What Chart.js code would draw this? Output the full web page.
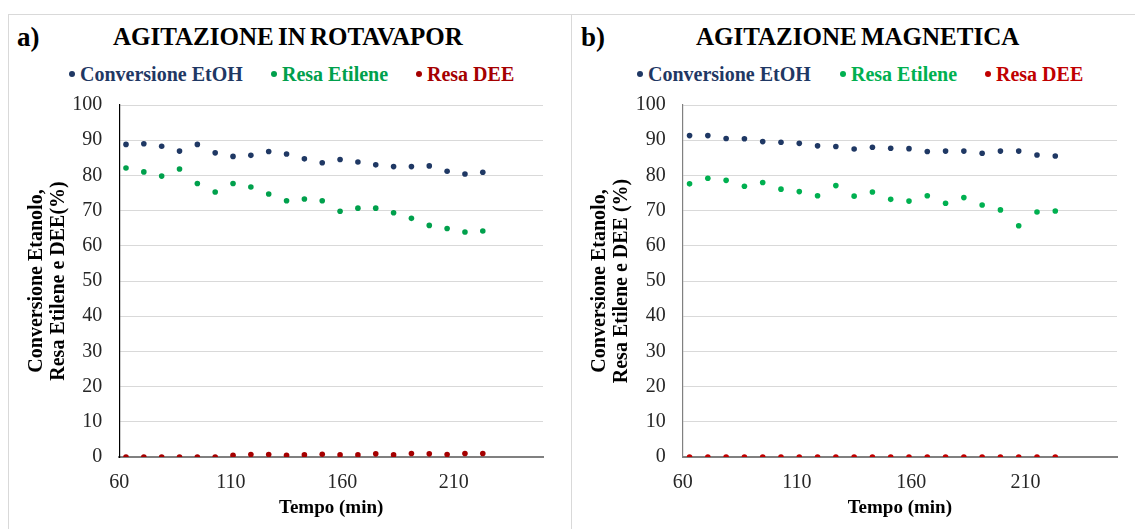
<!DOCTYPE html>
<html>
<head>
<meta charset="utf-8">
<script src="https://cdn.jsdelivr.net/npm/chart.js@4/dist/chart.umd.min.js"></script>
<style>
  body { margin: 0; background: #fff; font-family: "Liberation Serif", "Times New Roman", serif; }
  #wrap { position: relative; width: 1135px; height: 529px; overflow: hidden; }
  .frame { position: absolute; border: 1px solid #d9d9d9; box-sizing: border-box; }
  .tag { position: absolute; font-weight: bold; font-size: 27px; line-height: 30px; color: #000; }
  .title { position: absolute; font-weight: bold; font-size: 25px; line-height: 30px; color: #000; word-spacing: -2px; }
  .leg { position: absolute; font-weight: bold; font-size: 20px; line-height: 24px; white-space: nowrap; }
  .leg i { display: inline-block; width: 6px; height: 6px; border-radius: 50%; margin-right: 5px; vertical-align: 4px; }
  canvas { position: absolute; top: 0; }
</style>
</head>
<body>
<div id="wrap">
  <div class="frame" style="left:8px;top:14px;width:564px;height:520px;"></div>
  <div class="frame" style="left:571px;top:14px;width:570px;height:520px;"></div>

  <div class="tag" style="left:17px;top:22px;">a)</div>
  <div class="title" style="left:113px;top:22px;">AGITAZIONE IN ROTAVAPOR</div>
  <div class="leg" style="left:69px;top:62px;color:#1f3864;"><i style="background:#1f3864"></i>Conversione EtOH</div>
  <div class="leg" style="left:271px;top:62px;color:#00a04c;"><i style="background:#00a04c"></i>Resa Etilene</div>
  <div class="leg" style="left:416px;top:62px;color:#a50000;"><i style="background:#a50000"></i>Resa DEE</div>

  <div class="tag" style="left:581px;top:22px;">b)</div>
  <div class="title" style="left:696px;top:22px;">AGITAZIONE MAGNETICA</div>
  <div class="leg" style="left:637px;top:62px;color:#1f3864;"><i style="background:#1f3864"></i>Conversione EtOH</div>
  <div class="leg" style="left:840px;top:62px;color:#00b050;"><i style="background:#00b050"></i>Resa Etilene</div>
  <div class="leg" style="left:985px;top:62px;color:#c00000;"><i style="background:#c00000"></i>Resa DEE</div>

  <canvas id="chartA" width="560" height="529" style="left:0;"></canvas>
  <canvas id="chartB" width="572" height="529" style="left:563px;"></canvas>
</div>

<script>
// tempo (min)
const tempo = [63, 71, 79, 87, 95, 103, 111, 119, 127, 135, 143, 151, 159, 167, 175, 183, 191, 199, 207, 215, 223];
const xTicks = [60, 110, 160, 210];

// a) agitazione in rotavapor
const convRotavapor = [88.8, 89.0, 88.3, 86.9, 88.8, 86.4, 85.4, 85.7, 86.8, 86.1, 84.7, 83.6, 84.5, 83.8, 83.0, 82.5, 82.5, 82.7, 81.2, 80.4, 80.9];
const etileneRotavapor = [82.1, 81.0, 79.8, 81.8, 77.7, 75.3, 77.7, 76.7, 74.7, 72.8, 73.3, 72.8, 69.8, 70.7, 70.7, 69.4, 67.8, 65.8, 64.9, 63.9, 64.2];
const deeRotavapor = [0, 0, 0, 0, 0, 0, 0.5, 0.7, 0.7, 0.5, 0.6, 0.8, 0.6, 0.6, 0.9, 0.6, 1.0, 0.9, 0.7, 1.0, 1.0];

// b) agitazione magnetica
const convMagnetica = [91.3, 91.3, 90.5, 90.4, 89.6, 89.4, 89.1, 88.4, 88.2, 87.5, 88.0, 87.7, 87.6, 86.8, 86.9, 86.9, 86.3, 86.9, 86.9, 85.8, 85.5];
const etileneMagnetica = [77.6, 79.2, 78.6, 76.9, 78.0, 76.1, 75.4, 74.2, 77.1, 74.1, 75.3, 73.2, 72.7, 74.2, 72.1, 73.7, 71.6, 70.2, 65.7, 69.6, 69.9];
const deeMagnetica = [0, 0, 0, 0, 0, 0, 0, 0, 0, 0, 0, 0, 0, 0, 0, 0, 0, 0, 0, 0, 0];

const serif = '"Liberation Serif", "Times New Roman", serif';

function toPoints(ys) {
  return ys.map((y, i) => ({ x: tempo[i], y }));
}

function makeSet(label, ys, color) {
  return {
    label,
    data: toPoints(ys),
    backgroundColor: color,
    borderColor: color,
    pointRadius: 2.8,
    pointBorderWidth: 0,
    pointHoverRadius: 2.8
  };
}

// crea un grafico a dispersione
function createPanel(canvas, sets, yTitle, yBorder, yWidth, rightPad) {
  return new Chart(canvas, {
    type: 'scatter',
    data: { datasets: sets },
    options: {
      responsive: false,
      animation: false,
      events: [],
      layout: { padding: { top: 105, right: rightPad, bottom: 10, left: 0 } },
      plugins: { legend: { display: false }, tooltip: { enabled: false } },
      scales: {
        x: {
          type: 'linear',
          min: 60,
          max: 250,
          afterBuildTicks: (scale) => { scale.ticks = xTicks.map(v => ({ value: v })); },
          afterFit: (scale) => { scale.height = 62; },
          grid: { display: false, drawTicks: false },
          border: { color: '#808080', width: 2 },
          ticks: { color: '#262626', font: { family: serif, size: 20 }, padding: 14, maxRotation: 0 },
          title: { display: true, text: 'Tempo (min)', color: '#000', font: { family: serif, size: 19, weight: 'bold', lineHeight: 1.15 }, padding: 0 }
        },
        y: {
          min: 0,
          max: 100,
          afterFit: (scale) => { scale.width = yWidth; },
          ticks: { stepSize: 10, color: '#262626', font: { family: serif, size: 20 }, padding: 17 },
          grid: { color: '#d9d9d9', lineWidth: 1, drawTicks: false },
          border: { color: yBorder, width: 1.2 },
          title: { display: true, text: yTitle, color: '#000', font: { family: serif, size: 20, weight: 'bold', lineHeight: 1.1 }, padding: { top: 26, bottom: 0 } }
        }
      }
    }
  });
}

createPanel(document.getElementById('chartA'), [
  makeSet('Conversione EtOH', convRotavapor, '#1f3864'),
  makeSet('Resa Etilene', etileneRotavapor, '#00a04c'),
  makeSet('Resa DEE', deeRotavapor, '#a50000')
], ['Conversione Etanolo,', 'Resa Etilene e DEE(%)'], '#000', 119.3, 17);

createPanel(document.getElementById('chartB'), [
  makeSet('Conversione EtOH', convMagnetica, '#1f3864'),
  makeSet('Resa Etilene', etileneMagnetica, '#00b050'),
  makeSet('Resa DEE', deeMagnetica, '#c00000')
], ['Conversione Etanolo,', 'Resa Etilene e DEE (%)'], '#808080', 119.7, 18);
</script>
</body>
</html>
